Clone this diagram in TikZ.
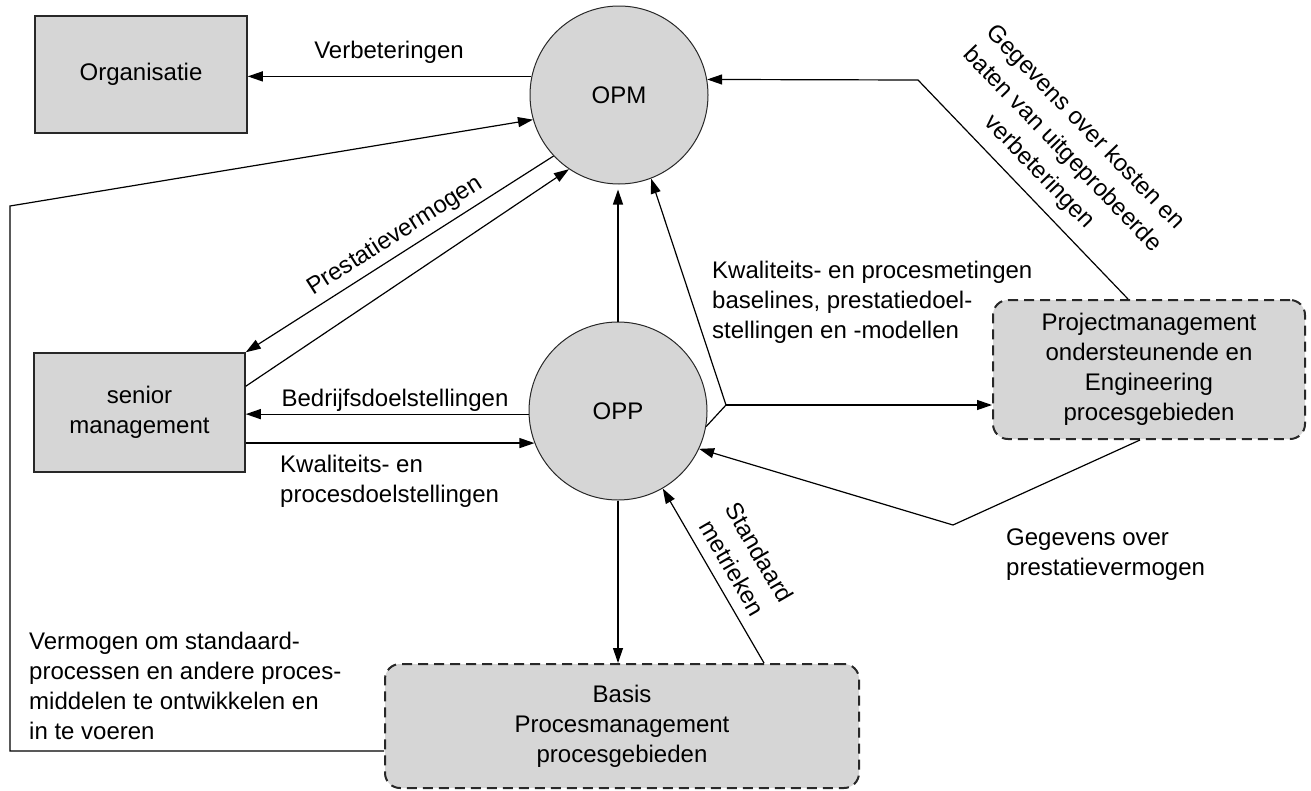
\documentclass[tikz,border=0pt]{standalone}
\usepackage{fontspec}
\setmainfont{Liberation Sans}
\usetikzlibrary{arrows.meta,calc}
\definecolor{boxgray}{RGB}{214,214,214}
\definecolor{linegray}{RGB}{40,40,40}
\begin{document}
\begin{tikzpicture}[x=1pt,y=-1pt,
  font=\fontsize{24}{30}\selectfont,
  plainbox/.style={draw=linegray,fill=boxgray,line width=1.5pt,rectangle,inner sep=0pt,align=center},
  areabox/.style={draw=linegray,fill=boxgray,line width=2pt,rectangle,rounded corners=15pt,
    dash pattern=on 10pt off 6pt,inner sep=0pt,align=center},
  proc/.style={draw=linegray,fill=boxgray,line width=1pt,circle,minimum size=178pt,inner sep=0pt},
  flow/.style={draw=black,line width=1.2pt,-{Triangle[length=15pt,width=10pt]}},
  link/.style={draw=black,line width=1.2pt},
  lbl/.style={inner sep=0pt,align=left},
  clbl/.style={inner sep=0pt,align=center}]
\useasboundingbox (0,0) rectangle (1311,790);

% processes and groups
\node[plainbox,minimum width=212pt,minimum height=117pt] (org) at (141,74.5) {Organisatie};
\node[plainbox,minimum width=211pt,minimum height=119pt] (sen) at (139.5,412.5) {senior\\management};
\node[proc] (opm) at (619,95) {OPM};
\node[proc] (opp) at (618,411) {OPP};
\node[areabox,minimum width=312pt,minimum height=139pt] (proj) at (1149,369.5)
  {Projectmanagement\\ondersteunende en\\Engineering\\procesgebieden};
\node[areabox,minimum width=474pt,minimum height=124pt] (basis) at (622,726)
  {Basis\\Procesmanagement\\procesgebieden};

% bend points
\coordinate (lb) at (10,751);
\coordinate (lt) at (10,206);
\coordinate (j) at (726,405);
\coordinate (k1) at (918,80);
\coordinate (k2) at (953,525);

% connectors
\draw[flow] (opm.168) -- (opm.168 -| org.east);
\draw[flow] (basis.west |- lb) -- (lb) -- (lt) -- (opm.196);
\draw[flow] (opm.223) -- (sen.north east);
\draw[flow] ($(sen.north east)+(0,34)$) -- (opm.236);
\draw[flow] (opp.182) -- (opp.182 -| sen.east);
\draw[flow] (opp.201 -| sen.east) -- (opp.201);
\draw[flow,shorten >=5pt] (opp.north) -- (opp.north |- opm.south);
\draw[flow] (opp.south) -- (opp.south |- basis.north);
\draw[link] (opp.-10) -- (j);
\draw[flow] (j) -- (j -| proj.west);
\draw[flow] (j) -- (opm.-69);
\draw[flow] ($(proj.north)+(-21,0)$) -- (k1) -- (opm.10);
\draw[flow] ($(proj.south)+(-9,0)$) -- (k2) -- (opp.-25);
\draw[flow] ($(basis.north)+(142,0)$) -- (opp.-60);

% labels
\node[clbl] (tv) at (389,52) {Verbeteringen};
\node[clbl,rotate=32.5] (tp) at (395,236) {Prestatievermogen};
\node[clbl] (tb) at (395,400) {Bedrijfsdoelstellingen};
\node[lbl,anchor=west] (tk) at (280,481) {Kwaliteits- en\\procesdoelstellingen};
\node[lbl,anchor=west] (tm) at (712,302) {Kwaliteits- en procesmetingen\\baselines, prestatiedoel-\\stellingen en -modellen};
\node[clbl,rotate=-46,font=\fontsize{24}{32}\selectfont] (tg) at (1062,150) {Gegevens over kosten en\\baten van uitgeprobeerde\\verbeteringen};
\node[lbl,anchor=west] (tc) at (1006,555) {Gegevens over\\prestatievermogen};
\node[clbl,rotate=-60,font=\fontsize{24}{31}\selectfont] (ts) at (746,560) {Standaard\\metrieken};
\node[lbl,anchor=west] (tvm) at (29,686) {Vermogen om standaard-\\processen en andere proces-\\middelen te ontwikkelen en\\in te voeren};
\end{tikzpicture}
\end{document}
